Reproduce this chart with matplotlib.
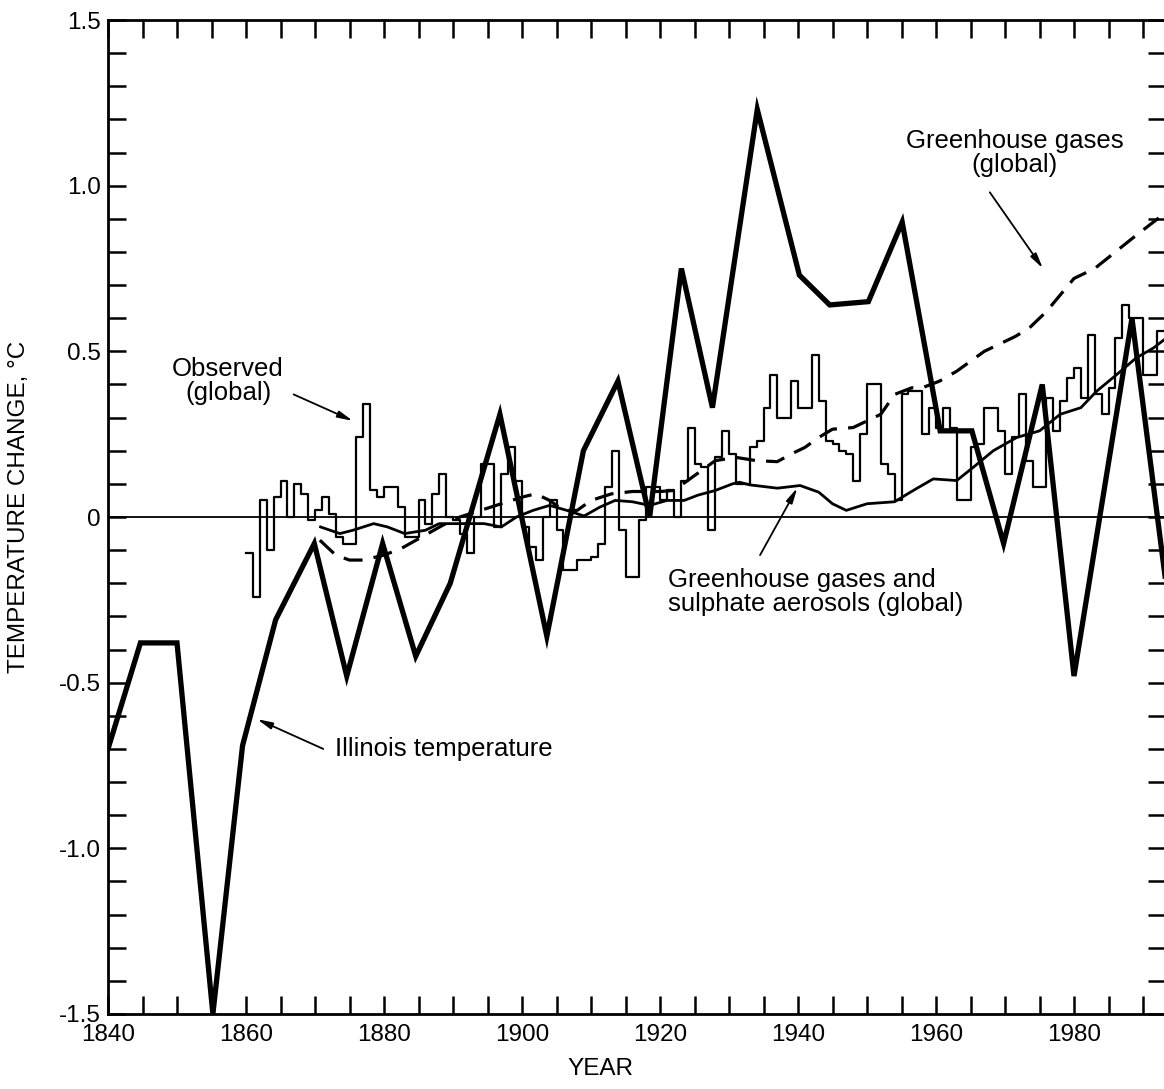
import numpy as np
import matplotlib
matplotlib.use('Agg')
import matplotlib.pyplot as plt

plt.rcParams['font.family'] = ['Liberation Sans', 'DejaVu Sans']

# Illinois temperature, 5-year means (thick line)
illinois_years = [1840, 1844.7, 1850, 1855.2, 1859.5, 1864.3, 1869.9, 1874.6, 1879.8, 1884.6,
                  1889.6, 1896.8, 1903.6, 1908.9, 1913.9, 1918.5, 1923.1, 1927.6, 1934.1, 1940.2,
                  1944.6, 1950.2, 1955.1, 1960.6, 1965.2, 1969.8, 1975.4, 1980.0, 1988.4, 1994.0]
illinois_vals = [-0.70, -0.38, -0.38, -1.50, -0.69, -0.31, -0.08, -0.48, -0.08, -0.42,
                 -0.20, 0.31, -0.36, 0.20, 0.41, 0.00, 0.75, 0.33, 1.23, 0.73,
                 0.64, 0.65, 0.89, 0.26, 0.26, -0.08, 0.40, -0.48, 0.60, -0.31]

# observed global annual anomalies
obs_start = 1860
obs_vals = [-0.11, -0.24, 0.05, -0.10, 0.06, 0.11, 0.00, 0.10, 0.07, -0.01,
            0.02, 0.06, 0.01, -0.06, -0.08, -0.08, 0.24, 0.34, 0.08, 0.06,
            0.09, 0.09, 0.03, -0.06, -0.06, 0.05, -0.02, 0.07, 0.13, 0.00,
            -0.01, -0.05, -0.11, 0.00, 0.16, 0.16, -0.03, 0.13, 0.21, 0.11,
            -0.03, -0.09, -0.13, 0.00, 0.05, -0.04, -0.16, -0.16, -0.13, -0.13,
            -0.12, -0.08, 0.09, 0.20, -0.04, -0.18, -0.18, -0.01, 0.09, 0.09,
            0.05, 0.08, 0.00, 0.11, 0.27, 0.16, 0.15, -0.04, 0.18, 0.26,
            0.19, 0.10, 0.10, 0.21, 0.23, 0.33, 0.43, 0.30, 0.30, 0.41,
            0.33, 0.33, 0.49, 0.35, 0.23, 0.22, 0.20, 0.19, 0.11, 0.25,
            0.40, 0.40, 0.16, 0.13, 0.05, 0.37, 0.38, 0.38, 0.25, 0.33,
            0.27, 0.33, 0.27, 0.05, 0.05, 0.21, 0.22, 0.33, 0.33, 0.26,
            0.13, 0.24, 0.37, 0.17, 0.09, 0.09, 0.36, 0.26, 0.35, 0.42,
            0.45, 0.36, 0.55, 0.37, 0.31, 0.39, 0.54, 0.64, 0.60, 0.60,
            0.43, 0.43, 0.56, 0.56]

# model: greenhouse gases only (dashed)
ghg_years = [1870.7, 1873, 1875, 1877, 1880, 1882.5, 1885.5, 1888.5, 1891, 1894,
             1897, 1900, 1902, 1904, 1906, 1908, 1910, 1913, 1916, 1920,
             1922, 1924, 1926, 1928, 1931, 1934, 1937, 1939, 1941, 1943,
             1945, 1948, 1950, 1952, 1954, 1956.5, 1958, 1960.5, 1963, 1965,
             1967, 1969, 1971.5, 1973.5, 1976, 1978, 1980, 1983, 1986, 1989, 1994]
ghg_vals = [-0.07, -0.115, -0.13, -0.13, -0.115, -0.095, -0.06, -0.025, 0.00, 0.02,
            0.04, 0.06, 0.07, 0.05, 0.02, 0.02, 0.05, 0.07, 0.077, 0.077,
            0.08, 0.11, 0.14, 0.17, 0.18, 0.17, 0.167, 0.19, 0.21, 0.24,
            0.265, 0.27, 0.29, 0.31, 0.37, 0.39, 0.39, 0.41, 0.44, 0.47,
            0.50, 0.52, 0.545, 0.57, 0.62, 0.67, 0.72, 0.75, 0.80, 0.85, 0.93]

# model: greenhouse gases + sulphate aerosols (thin solid)
sul_years = [1870.8, 1873.6, 1875.5, 1878.5, 1880.5, 1883, 1886, 1888, 1891, 1894.5,
             1897, 1899.2, 1901.6, 1904, 1906.5, 1909, 1911.3, 1913.5, 1916, 1918.5,
             1921, 1923.5, 1925.5, 1928, 1930.5, 1931.5, 1933, 1937, 1940.3, 1943,
             1945, 1947, 1950, 1954, 1956.7, 1959.6, 1963, 1965.4, 1968.3, 1971.7,
             1975, 1978, 1981, 1983.3, 1986.2, 1989, 1991.5, 1994]
sul_vals = [-0.03, -0.05, -0.04, -0.02, -0.03, -0.05, -0.04, -0.02, -0.02, -0.02,
            -0.03, 0.00, 0.02, 0.035, 0.02, 0.003, 0.03, 0.05, 0.046, 0.035,
            0.05, 0.05, 0.066, 0.08, 0.10, 0.105, 0.097, 0.087, 0.095, 0.075,
            0.04, 0.02, 0.04, 0.046, 0.08, 0.115, 0.11, 0.15, 0.20, 0.24,
            0.26, 0.31, 0.33, 0.38, 0.43, 0.48, 0.51, 0.55]

W, H = 1164, 1089
fig = plt.figure(figsize=(W / 100, H / 100), dpi=100)
ax = fig.add_axes([108 / W, 75 / H, 1058 / W, 994 / H])

obs_years = np.arange(obs_start, obs_start + len(obs_vals) + 1)
obs_ext = list(obs_vals) + [obs_vals[-1]]
ax.step(obs_years, obs_ext, where='post', color='black', lw=1.6)

ax.plot(sul_years, sul_vals, color='black', lw=2.0)
ghg_line, = ax.plot(ghg_years, ghg_vals, color='black', lw=2.3)
ghg_line.set_dashes([6, 3.5])
ax.plot(illinois_years, illinois_vals, color='black', lw=3.8, solid_joinstyle='miter')

ax.axhline(0, color='black', lw=1.3)

ax.set_xlim(1840, 1840 + 1058 / 6.9)
ax.set_ylim(-1.5, 1.5)

ax.set_xticks(np.arange(1840, 1995, 5), minor=True)
ax.set_xticks(np.arange(1840, 1981, 20))
ax.set_xticklabels([str(y) for y in range(1840, 1981, 20)])
ax.set_yticks(np.arange(-1.5, 1.51, 0.1), minor=True)
ax.set_yticks([-1.5, -1.0, -0.5, 0, 0.5, 1.0, 1.5])
ax.set_yticklabels(['-1.5', '-1.0', '-0.5', '0', '0.5', '1.0', '1.5'])

for which in ('major', 'minor'):
    ax.tick_params(axis='both', which=which, direction='in', length=13, width=1.8,
                   top=True, right=True, labelsize=17.5, color='black')
ax.tick_params(axis='x', which='major', pad=7)
ax.tick_params(axis='y', which='major', pad=5)
for s in ax.spines.values():
    s.set_linewidth(2.0)

ax.set_xlabel('YEAR', fontsize=17.5)
ax.xaxis.set_label_coords((600 - 108) / 1058, -0.044)
ax.set_ylabel('TEMPERATURE CHANGE, \u00b0C', fontsize=17.5)
ax.yaxis.set_label_coords(-0.074, 0.51)

fs = 18.5
arrow = dict(arrowstyle='-|>,head_length=0.9,head_width=0.2', color='black', lw=1.3,
             shrinkA=0, shrinkB=0)

ax.text(1857.4, 0.41, 'Observed\n(global)', ha='center', va='center',
        fontsize=fs, linespacing=1.0)
ax.annotate('', xy=(1875.5, 0.29), xytext=(1866.9, 0.37), arrowprops=arrow)

ax.text(1971.4, 1.10, 'Greenhouse gases\n(global)', ha='center', va='center',
        fontsize=fs, linespacing=1.0)
ax.annotate('', xy=(1975.5, 0.75), xytext=(1967.8, 0.98), arrowprops=arrow)

ax.text(1921.2, -0.225, 'Greenhouse gases and\nsulphate aerosols (global)', ha='left',
        va='center', fontsize=fs, linespacing=1.0)
ax.annotate('', xy=(1939.9, 0.088), xytext=(1934.5, -0.115), arrowprops=arrow)

ax.text(1872.9, -0.70, 'Illinois temperature', ha='left', va='center', fontsize=fs)
ax.annotate('', xy=(1861.6, -0.61), xytext=(1871.2, -0.70), arrowprops=arrow)

fig.savefig('out.png', dpi=100)
